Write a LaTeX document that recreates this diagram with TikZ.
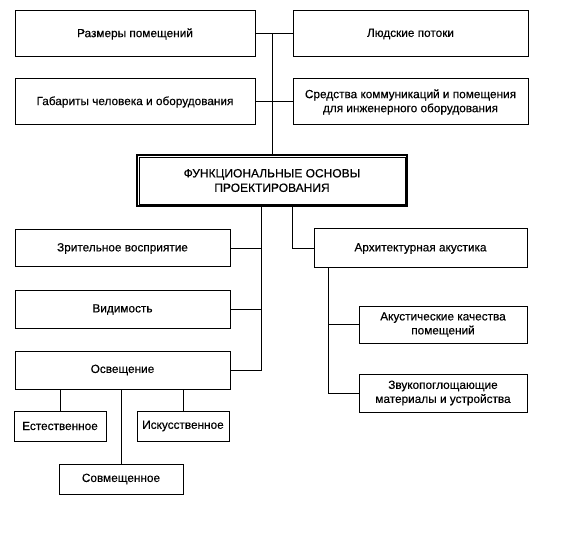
\documentclass[tikz,border=0pt]{standalone}
\usepackage{fontspec}
\setmainfont{Liberation Sans}[UprightFeatures={FakeBold=0.4}]
\usetikzlibrary{positioning}

\tikzset{
  blk/.style={draw, line width=1pt, align=center, inner sep=2pt,
    font=\fontsize{11.8}{14}\selectfont},
  mainblk/.style={blk, line width=2.2pt, font=\fontsize{12}{14.5}\selectfont},
  link/.style={line width=1pt}
}

\begin{document}
\begin{tikzpicture}[x=1pt, y=-1pt]
  \useasboundingbox (0,0) rectangle (562,537);

  % upper group
  \node[blk, minimum width=240pt, minimum height=46pt] (razm) at (135,34) {Размеры помещений};
  \node[blk, minimum width=235pt, minimum height=46pt] (potok) at (410.5,34) {Людские потоки};
  \node[blk, minimum width=240pt, minimum height=46pt] (gabar) at (135,102) {Габариты человека и оборудования};
  \node[blk, minimum width=235pt, minimum height=46pt] (sredst) at (410.5,102) {Средства коммуникаций и помещения\\для инженерного оборудования};

  % main block
  \node[mainblk, minimum width=270pt, minimum height=51pt] (osn) at (272,180.5) {ФУНКЦИОНАЛЬНЫЕ ОСНОВЫ\\ПРОЕКТИРОВАНИЯ};
  \draw[line width=0.5pt] ([shift={(3pt,-3pt)}]osn.north west) rectangle ([shift={(-3pt,3pt)}]osn.south east);

  \draw[link] (razm.east) -- (potok.west);
  \draw[link] (gabar.east) -- (sredst.west);
  \draw[link] (razm.east -| osn.north) -- (osn.north);

  % left group
  \node[blk, minimum width=215pt, minimum height=37pt] (zrit) at (122.5,248.5) {Зрительное восприятие};
  \node[blk, minimum width=215pt, minimum height=37pt] (vidim) at (122.5,309.5) {Видимость};
  \node[blk, minimum width=215pt, minimum height=38pt] (osv) at (122.5,370) {Освещение};
  \node[blk, minimum width=92pt, minimum height=30pt] (estest) at (60,426) {Естественное};
  \node[blk, minimum width=92pt, minimum height=30pt] (iskus) at (183,426) {Искусственное};
  \node[blk, minimum width=124pt, minimum height=30pt] (sovm) at (121,479) {Совмещенное};

  \coordinate (lt) at ([xshift=-11pt]osn.south);
  \draw[link] (lt) |- (osv.east);
  \draw[link] (zrit.east) -- (zrit.east -| lt);
  \draw[link] (vidim.east) -- (vidim.east -| lt);
  \draw[link] (estest.north) -- (estest.north |- osv.south);
  \draw[link] (iskus.north) -- (iskus.north |- osv.south);
  \draw[link] (sovm.north) -- (sovm.north |- osv.south);

  % right group
  \node[blk, minimum width=213pt, minimum height=39pt] (arch) at (420.5,248.5) {Архитектурная акустика};
  \node[blk, minimum width=168pt, minimum height=37pt] (akust) at (443,324.5) {Акустические качества\\помещений};
  \node[blk, minimum width=168pt, minimum height=38pt] (zvuk) at (443,393) {Звукопоглощающие\\материалы и устройства};

  \draw[link] ([xshift=20pt]osn.south) |- (arch.west);
  \coordinate (rt) at ([xshift=15pt]arch.south west);
  \draw[link] (rt) |- (zvuk.west);
  \draw[link] (akust.west) -- (akust.west -| rt);
\end{tikzpicture}
\end{document}
